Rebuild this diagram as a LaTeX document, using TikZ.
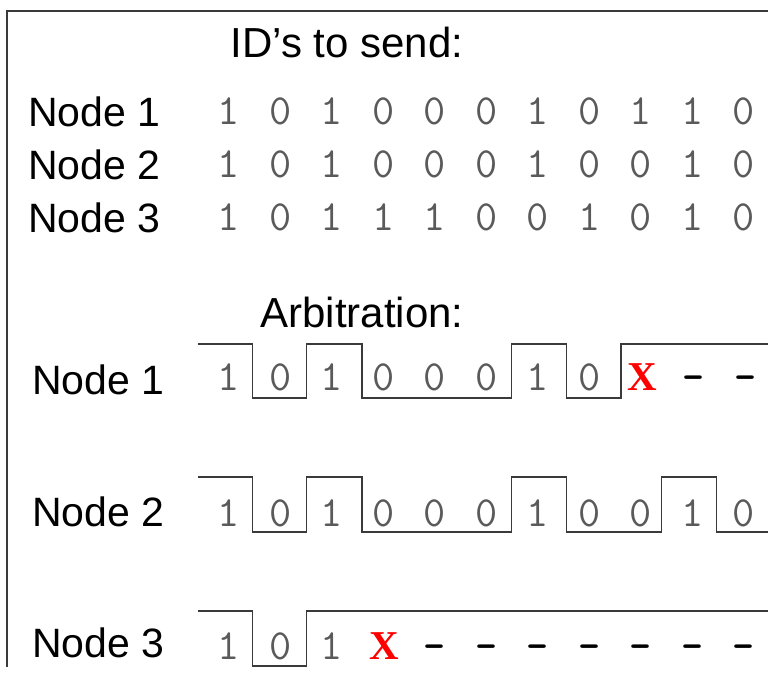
\documentclass[tikz,border=0pt]{standalone}
\usepackage{fontspec}
\setmainfont{Liberation Sans}
\newfontfamily\xmarkfont{Liberation Serif}
\definecolor{digitgray}{HTML}{5A5A5A}
\definecolor{linegray}{HTML}{3A3A3A}
\begin{document}
\begin{tikzpicture}[x=1pt,y=-1pt,
  lbl/.style={font=\fontsize{41}{41}\selectfont, anchor=base west, inner sep=0pt},
  head/.style={font=\fontsize{42}{42}\selectfont, anchor=base, inner sep=0pt},
  dig/.style={font=\ttfamily\fontsize{43}{43}\selectfont, text=digitgray, anchor=base, inner sep=0pt},
  xmark/.style={font=\xmarkfont\bfseries\fontsize{41}{41}\selectfont, text=red, anchor=base, inner sep=0pt},
  dsh/.style={font=\ttfamily\bfseries\fontsize{42}{42}\selectfont, text=black, anchor=base, inner sep=0pt},
  wave/.style={line width=1.3pt, draw=linegray},
  frame/.style={line width=1.5pt, draw=linegray}]
\useasboundingbox (0,0) rectangle (768,677);
% frame
\draw[frame] (7,667) -- (7,11) -- (768,11);
% headings
\node[head] (h1) at (347,58) {ID’s to send:};
\node[head] (h2) at (362,327) {Arbitration:};
% top labels
\node[lbl] (n1) at (28,126.5) {Node 1};
\node[lbl] (n2) at (28,179.5) {Node 2};
\node[lbl] (n3) at (28,232) {Node 3};
% top digits
\foreach \b [count=\i from 0] in {1,0,1,0,0,0,1,0,1,1,0}
  \node[dig] (a\i) at ({229+51.5*\i},124) {\b};
\foreach \b [count=\i from 0] in {1,0,1,0,0,0,1,0,0,1,0}
  \node[dig] (b\i) at ({229+51.5*\i},177) {\b};
\foreach \b [count=\i from 0] in {1,0,1,1,1,0,0,1,0,1,0}
  \node[dig] (c\i) at ({229+51.5*\i},230) {\b};
% arbitration labels
\node[lbl] (m1) at (32,394) {Node 1};
\node[lbl] (m2) at (32,526) {Node 2};
\node[lbl] (m3) at (32,657) {Node 3};
% arbitration row 1
\foreach \b [count=\i from 0] in {1,0,1,0,0,0,1,0}
  \node[dig] (p\i) at ({229+51.5*\i},390) {\b};
\node[xmark] (px) at (642,390) {X};
\node[dsh] (pd1) at (694,390) {-};
\node[dsh] (pd2) at (746,390) {-};
\draw[wave] (198,344) -- (252.7,344) -- (252.7,398) -- (306.7,398) -- (306.7,344)
  -- (362,344) -- (362,398) -- (511.7,398) -- (511.7,344) -- (566.7,344)
  -- (566.7,398) -- (621,398) -- (621,344) -- (768,344);
% arbitration row 2
\foreach \b [count=\i from 0] in {1,0,1,0,0,0,1,0,0,1,0}
  \node[dig] (q\i) at ({229+51.5*\i},526) {\b};
\draw[wave] (198,477) -- (252.7,477) -- (252.7,532) -- (306.7,532) -- (306.7,477)
  -- (362,477) -- (362,532) -- (511.7,532) -- (511.7,477) -- (566.7,477)
  -- (566.7,532) -- (661.7,532) -- (661.7,477) -- (716.7,477) -- (716.7,532) -- (768,532);
% arbitration row 3
\foreach \b [count=\i from 0] in {1,0,1}
  \node[dig] (r\i) at ({229+51.5*\i},659.5) {\b};
\node[xmark] (rx) at (384,659.5) {X};
\foreach \i in {4,...,10}
  \node[dsh] (rd\i) at ({229+51.5*\i},659.5) {-};
\draw[wave] (198,611) -- (252.7,611) -- (252.7,666) -- (306.7,666) -- (306.7,611) -- (768,611);
\end{tikzpicture}
\end{document}
